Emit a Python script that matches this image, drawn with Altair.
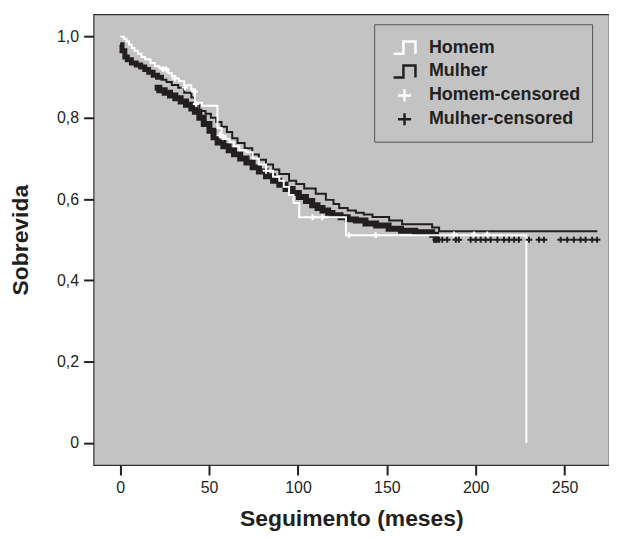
import altair as alt
import pandas as pd

FONT = "Liberation Sans"
INK = "#231f20"
BG = "#c3c3c3"

# ---- Homem (white) Kaplan-Meier curve: time (months), survival ----
homem_t = [0, 2, 3.5, 5, 6.5, 8, 10, 12, 14, 17, 19.5, 22, 25, 27, 29, 31, 33, 36, 40,
           42, 46, 54.7, 57, 59, 61.5, 64, 67, 71, 74.5, 78, 82, 86, 89.5, 92, 95, 97.5,
           100.7, 127, 228.5]
homem_s = [1.0, 0.995, 0.988, 0.98, 0.972, 0.965, 0.958, 0.95, 0.944, 0.935, 0.927, 0.923,
           0.919, 0.91, 0.903, 0.897, 0.89, 0.88, 0.87, 0.837, 0.83, 0.775, 0.755, 0.748,
           0.74, 0.73, 0.72, 0.715, 0.70, 0.685, 0.67, 0.655, 0.645, 0.63, 0.61, 0.59,
           0.555, 0.511, 0.0]

# ---- Mulher (black) curve, upper trace ----
mulher_a_t = [0, 1, 2.6, 4, 6.3, 9, 11.5, 13.8, 16, 18.5, 21, 23.2, 26, 29, 32.6, 36, 40,
              42, 44.5, 48, 51, 54, 57, 60, 63, 66, 70, 74.3, 78, 82, 86, 89.5, 95, 99,
              103.5, 110, 115.7, 120, 123.2, 128, 132.6, 137, 141.9, 151.3, 158.6, 175.5,
              179.4, 268.4]
mulher_a_s = [0.98, 0.965, 0.95, 0.943, 0.935, 0.93, 0.925, 0.919, 0.912, 0.905, 0.9, 0.894,
              0.888, 0.881, 0.874, 0.862, 0.85, 0.835, 0.817, 0.81, 0.8, 0.79, 0.778, 0.765,
              0.75, 0.738, 0.725, 0.71, 0.697, 0.685, 0.673, 0.662, 0.645, 0.637, 0.626,
              0.613, 0.598, 0.588, 0.578, 0.572, 0.566, 0.562, 0.556, 0.547, 0.538, 0.53,
              0.521, 0.521]

# ---- Mulher (black) curve, lower trace (dense censored marks) ----
mulher_b_t = [19.4, 22, 25, 28, 31, 34, 37, 40, 42, 44.5, 47, 50.2, 52.5, 54.8, 58, 61, 64,
              67.5, 71, 74.5, 78, 82, 86, 89.5, 93, 97, 100.5, 104.5, 108, 111, 113.8, 117,
              119.4, 124, 128, 132.6, 138, 144, 151, 158, 166, 175.5, 177.7, 180]
mulher_b_s = [0.874, 0.868, 0.862, 0.855, 0.848, 0.84, 0.832, 0.823, 0.815, 0.8, 0.785,
              0.768, 0.752, 0.739, 0.73, 0.72, 0.71, 0.7, 0.69, 0.678, 0.668, 0.656, 0.645,
              0.635, 0.625, 0.615, 0.605, 0.595, 0.585, 0.578, 0.572, 0.566, 0.56, 0.555,
              0.55, 0.547, 0.54, 0.535, 0.527, 0.522, 0.518, 0.512, 0.50, 0.50]

# ---- censored observations ----
homem_cens_t = [24, 26, 30.7, 36.4, 41.7, 42.7, 56, 58, 82, 108.2, 113.7, 128.8, 143.8,
                187.8, 199, 206.5]
homem_cens_s = [0.92, 0.919, 0.897, 0.875, 0.865, 0.834, 0.757, 0.752, 0.67, 0.555, 0.555,
                0.511, 0.511, 0.513, 0.513, 0.513]

mulher_cens_t = [177.5, 181.2, 184, 188.8, 190.5, 197.2, 200, 202.8, 205.6, 208.4, 212.2,
                 215.9, 218.8, 221.6, 224.3, 230, 235.6, 238.4, 247.8, 251.5, 255.2, 259,
                 261.8, 265.5, 268.3]
mulher_cens_s = [0.50] * len(mulher_cens_t)

series_names = ["Homem", "Mulher", "Homem-censored", "Mulher-censored"]
series_colors = ["#ffffff", INK, "#ffffff", INK]
STEP = "M-1,0.55H-0.1V-0.55H1V0.55"
PLUS = "M-0.6,0H0.6M0,-0.55V0.55"
series_shapes = [STEP, STEP, PLUS, PLUS]

x_ticks = [0, 50, 100, 150, 200, 250]
y_ticks = [0, 0.2, 0.4, 0.6, 0.8, 1.0]

homem = pd.DataFrame({"t": homem_t, "s": homem_s})
mulher_a = pd.DataFrame({"t": mulher_a_t, "s": mulher_a_s})
mulher_b = pd.DataFrame({"t": mulher_b_t, "s": mulher_b_s})
cens = pd.concat([
    pd.DataFrame({"t": homem_cens_t, "s": homem_cens_s, "serie": "Homem-censored"}),
    pd.DataFrame({"t": mulher_cens_t, "s": mulher_cens_s, "serie": "Mulher-censored"}),
])

x_enc = alt.X("t:Q",
              scale=alt.Scale(domain=[-15, 275], nice=False, zero=False),
              axis=alt.Axis(values=x_ticks, format="d", title="Seguimento (meses)",
                            titlePadding=12))
y_enc = alt.Y("s:Q",
              scale=alt.Scale(domain=[-0.055, 1.055], nice=False, zero=False),
              axis=alt.Axis(values=y_ticks, title="Sobrevida", titlePadding=24,
                            labelExpr="datum.value == 0 ? '0' : replace(format(datum.value, '.1f'), '.', ',')"))

black_b = alt.Chart(mulher_b).mark_line(interpolate="step-after", color=INK,
                                        strokeWidth=6).encode(x=x_enc, y=y_enc)
black_a = alt.Chart(mulher_a).mark_line(interpolate="step-after", color=INK,
                                        strokeWidth=2).encode(x=x_enc, y=y_enc)
black_a_thick = alt.Chart(mulher_a).transform_filter("datum.t <= 23.2").mark_line(
    interpolate="step-after", color=INK, strokeWidth=5).encode(x=x_enc, y=y_enc)
white_line = alt.Chart(homem).mark_line(interpolate="step-after", color="#ffffff",
                                        strokeWidth=2).encode(x=x_enc, y=y_enc)

points = alt.Chart(cens).mark_point(filled=False, size=121, strokeWidth=2, opacity=1).encode(
    x=x_enc, y=y_enc,
    color=alt.Color("serie:N", scale=alt.Scale(domain=series_names, range=series_colors),
                    legend=alt.Legend(orient="none", legendX=282, legendY=10, title=None,
                                      padding=11, symbolOffset=7, fillColor=BG,
                                      strokeColor="#555555", labelFont=FONT,
                                      labelFontSize=18, labelFontWeight="bold",
                                      labelColor=INK, symbolSize=484,
                                      symbolStrokeWidth=2.5, rowPadding=0,
                                      labelOffset=12)),
    shape=alt.Shape("serie:N", scale=alt.Scale(domain=series_names, range=series_shapes),
                    legend=None),
)

chart = alt.layer(black_b, black_a, black_a_thick, white_line, points).properties(
    width=518, height=453,
    autosize=alt.AutoSizeParams(type="none"),
    padding={"left": 86, "top": 5, "right": 0, "bottom": 72},
    background="#ffffff",
).configure_view(fill=BG, stroke="#333333", strokeWidth=1.2).configure_axis(
    domain=False, grid=False, ticks=True, tickSize=10, tickWidth=2, tickColor=INK,
    labelFont=FONT, labelFontSize=16, labelColor=INK, labelPadding=5,
    titleFont=FONT, titleFontSize=23, titleFontWeight="bold", titleColor=INK,
)

chart.save("out.html", embed_options={"renderer": "svg", "actions": False})
